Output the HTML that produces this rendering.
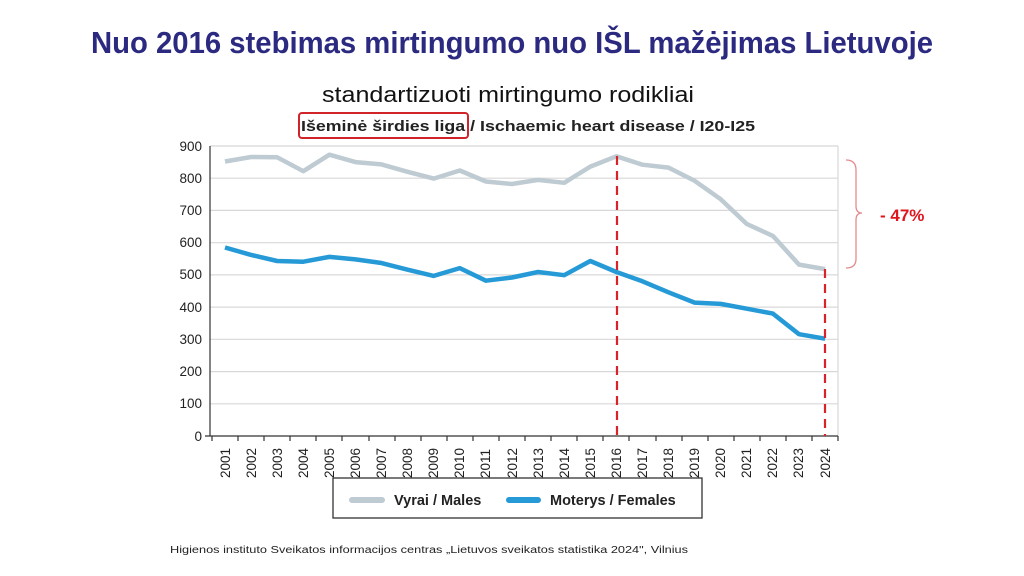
<!DOCTYPE html>
<html><head><meta charset="utf-8"><style>body{margin:0;background:#fff}svg{display:block}</style></head><body>
<svg width="1024" height="576" xmlns="http://www.w3.org/2000/svg" font-family="Liberation Sans, sans-serif">
<text x="512" y="53" text-anchor="middle" font-size="31" font-weight="bold" fill="#2b2a80" textLength="842" lengthAdjust="spacingAndGlyphs">Nuo 2016 stebimas mirtingumo nuo IŠL mažėjimas Lietuvoje</text>
<text x="508" y="102" text-anchor="middle" font-size="22" fill="#111" textLength="372" lengthAdjust="spacingAndGlyphs">standartizuoti mirtingumo rodikliai</text>
<text x="528" y="131" text-anchor="middle" font-size="15" font-weight="bold" fill="#222" textLength="454" lengthAdjust="spacingAndGlyphs">Išeminė širdies liga / Ischaemic heart disease / I20-I25</text>
<rect x="299" y="113" width="169" height="25" rx="3" fill="none" stroke="#d0242a" stroke-width="2"/>
<g stroke="#d8d8d8" stroke-width="1.2">
<line x1="210" x2="838" y1="146" y2="146"/><line x1="210" x2="838" y1="178.2" y2="178.2"/><line x1="210" x2="838" y1="210.4" y2="210.4"/><line x1="210" x2="838" y1="242.7" y2="242.7"/><line x1="210" x2="838" y1="274.9" y2="274.9"/><line x1="210" x2="838" y1="307.1" y2="307.1"/><line x1="210" x2="838" y1="339.3" y2="339.3"/><line x1="210" x2="838" y1="371.6" y2="371.6"/><line x1="210" x2="838" y1="403.8" y2="403.8"/>
<line x1="838" x2="838" y1="146" y2="436"/>
</g>
<g stroke="#333" stroke-width="1.2"><line x1="210" x2="210" y1="146" y2="436"/><line x1="205" x2="838" y1="436" y2="436"/>
<path d="M212,436v5M238,436v5M264,436v5M290,436v5M316,436v5M342,436v5M369,436v5M395,436v5M421,436v5M447,436v5M473,436v5M499,436v5M525,436v5M551,436v5M577,436v5M603,436v5M629,436v5M656,436v5M682,436v5M708,436v5M734,436v5M760,436v5M786,436v5M812,436v5M838,436v5"/></g>
<g font-size="13.5" fill="#222" text-anchor="end">
<text x="202" y="151">900</text><text x="202" y="183">800</text><text x="202" y="215">700</text><text x="202" y="247">600</text><text x="202" y="279">500</text><text x="202" y="312">400</text><text x="202" y="344">300</text><text x="202" y="376">200</text><text x="202" y="408">100</text><text x="202" y="441">0</text>
</g>
<g font-size="13.5" fill="#222">
<text transform="translate(230,478) rotate(-90)">2001</text><text transform="translate(256,478) rotate(-90)">2002</text><text transform="translate(282,478) rotate(-90)">2003</text><text transform="translate(308,478) rotate(-90)">2004</text><text transform="translate(334,478) rotate(-90)">2005</text><text transform="translate(360,478) rotate(-90)">2006</text><text transform="translate(386,478) rotate(-90)">2007</text><text transform="translate(412,478) rotate(-90)">2008</text><text transform="translate(438,478) rotate(-90)">2009</text><text transform="translate(464,478) rotate(-90)">2010</text><text transform="translate(490,478) rotate(-90)">2011</text><text transform="translate(517,478) rotate(-90)">2012</text><text transform="translate(543,478) rotate(-90)">2013</text><text transform="translate(569,478) rotate(-90)">2014</text><text transform="translate(595,478) rotate(-90)">2015</text><text transform="translate(621,478) rotate(-90)">2016</text><text transform="translate(647,478) rotate(-90)">2017</text><text transform="translate(673,478) rotate(-90)">2018</text><text transform="translate(699,478) rotate(-90)">2019</text><text transform="translate(725,478) rotate(-90)">2020</text><text transform="translate(751,478) rotate(-90)">2021</text><text transform="translate(777,478) rotate(-90)">2022</text><text transform="translate(803,478) rotate(-90)">2023</text><text transform="translate(830,478) rotate(-90)">2024</text>
</g>
<polyline fill="none" stroke="#bfcbd2" stroke-width="4.5" stroke-linejoin="round" points="225,161.5 251.1,157 277.2,157.3 303.3,171.2 329.4,154.7 355.5,162.1 381.5,164.4 407.6,171.8 433.7,178.6 459.8,170.5 485.9,181.5 512,184 538.1,179.9 564.2,182.8 590.3,166.6 616.4,156.3 642.4,164.7 668.5,167.6 694.6,180.8 720.7,199.2 746.8,224 772.9,235.9 799,264.6 825.1,269.1"/>
<polyline fill="none" stroke="#259ad6" stroke-width="4.5" stroke-linejoin="round" points="225,247.5 251.1,254.9 277.2,261 303.3,261.7 329.4,256.9 355.5,259.4 381.5,263 407.6,269.7 433.7,275.9 459.8,268.1 485.9,280.7 512,277.5 538.1,272 564.2,275.2 590.3,261 616.4,272 642.4,281.3 668.5,292.3 694.6,302.6 720.7,303.9 746.8,308.7 772.9,313.6 799,334.2 825.1,338.7"/>
<g stroke="#d8232a" stroke-width="2.2" stroke-dasharray="9,6"><line x1="617" x2="617" y1="156" y2="436"/><line x1="825" x2="825" y1="269" y2="436"/></g>
<path d="M846,160 Q856,160 856,170 L856,206 Q856,213 862,213 Q856,213 856,220 L856,259 Q856,268 846,268" fill="none" stroke="#e58a8a" stroke-width="1.3"/>
<text x="880" y="221" font-size="17" font-weight="bold" fill="#e0161e">- 47%</text>
<rect x="333" y="478" width="369" height="40" fill="#fff" stroke="#333" stroke-width="1.3"/>
<line x1="352" x2="382" y1="500" y2="500" stroke="#bfcbd2" stroke-width="6" stroke-linecap="round"/>
<text x="394" y="505" font-size="14.5" font-weight="bold" fill="#222">Vyrai / Males</text>
<line x1="509" x2="538" y1="500" y2="500" stroke="#259ad6" stroke-width="6" stroke-linecap="round"/>
<text x="550" y="505" font-size="14.5" font-weight="bold" fill="#222">Moterys / Females</text>
<text x="170" y="553" font-size="10" fill="#222" textLength="518" lengthAdjust="spacingAndGlyphs">Higienos instituto Sveikatos informacijos centras „Lietuvos sveikatos statistika 2024", Vilnius</text>
</svg>
</body></html>
